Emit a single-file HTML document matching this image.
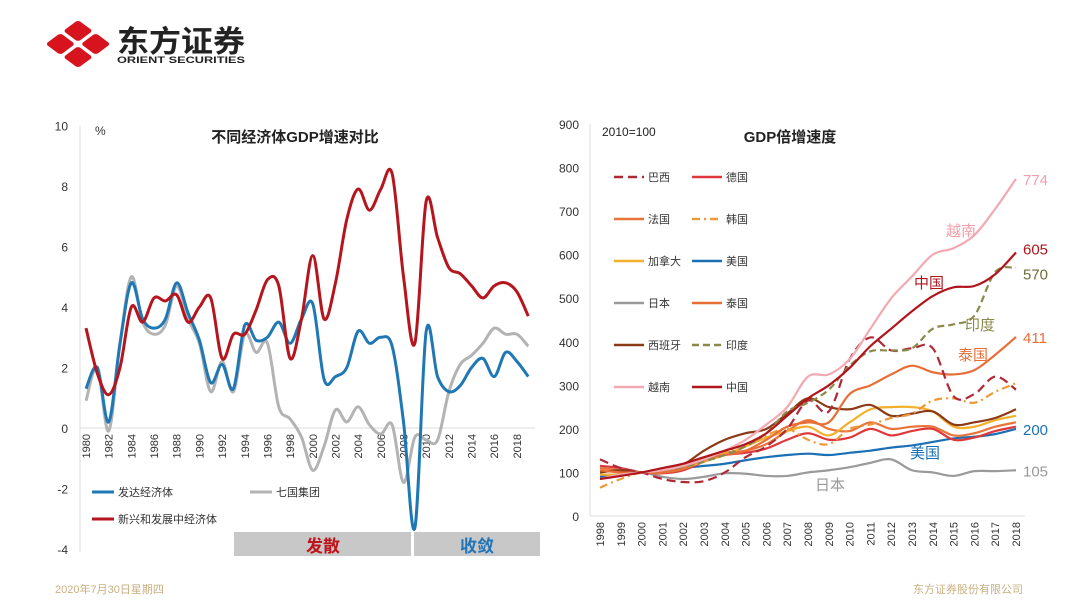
<!DOCTYPE html>
<html><head><meta charset="utf-8">
<style>
body{margin:0;background:#fff;}
svg{display:block;font-family:"Liberation Sans","Noto Sans CJK SC",sans-serif;}
</style></head>
<body>
<svg id="root" width="1080" height="608" viewBox="0 0 1080 608" xmlns="http://www.w3.org/2000/svg">
<g>
 <g transform="translate(78,44) scale(1.35,1) rotate(45)">
  <rect x="-17" y="-17" width="15.5" height="15.5" rx="2.5" fill="#d7141d"/>
  <rect x="1.5" y="-17" width="15.5" height="15.5" rx="2.5" fill="#d7141d"/>
  <rect x="-17" y="1.5" width="15.5" height="15.5" rx="2.5" fill="#d7141d"/>
  <rect x="1.5" y="1.5" width="15.5" height="15.5" rx="2.5" fill="#d7141d"/>
 </g>
 <text x="117" y="52" font-size="30" font-weight="bold" fill="#222" textLength="128" lengthAdjust="spacingAndGlyphs">东方证券</text>
 <text x="117" y="63" font-size="9.5" font-weight="bold" fill="#222" textLength="128" lengthAdjust="spacingAndGlyphs">ORIENT SECURITIES</text>
</g>
<g id="left"></g>
<g id="right"></g>
<text x="55" y="593" font-size="11" fill="#c8b080">2020年7月30日星期四</text>
<text x="913" y="593" font-size="11" fill="#c8b080">东方证券股份有限公司</text>
</svg>
<script>
// ---------- Left chart data ----------
const leftYears = [];
for (let y = 1980; y <= 2019; y++) leftYears.push(y);
const leftTicks = [-4, -2, 0, 2, 4, 6, 8, 10];
const developed = [1.3,2.0,0.2,2.8,4.8,3.6,3.3,3.6,4.8,3.8,2.9,1.5,2.1,1.3,3.4,2.9,3.0,3.5,2.8,3.6,4.1,1.6,1.7,2.0,3.2,2.8,3.0,2.7,0.2,-3.3,3.2,1.7,1.2,1.4,2.0,2.3,1.7,2.5,2.2,1.7];
const g7 = [0.9,2.0,-0.1,2.8,5.0,3.5,3.1,3.4,4.7,3.6,2.8,1.2,2.2,1.2,3.1,2.5,2.8,0.7,0.3,-0.3,-1.4,-0.6,0.6,0.2,0.7,0.1,-0.2,0.1,-1.8,-0.3,-0.4,-0.4,1.2,2.1,2.4,2.8,3.3,3.1,3.1,2.7];
const emerging = [3.3,1.8,1.1,2.0,4.0,3.5,4.3,4.2,4.4,3.5,4.0,4.3,2.3,3.1,3.1,3.9,4.9,4.7,2.3,3.6,5.7,3.6,4.8,6.9,7.9,7.2,7.9,8.4,5.0,2.8,7.5,6.3,5.3,5.1,4.7,4.3,4.7,4.8,4.5,3.7];

// ---------- Right chart data ----------
const rightYears = [];
for (let y = 1998; y <= 2018; y++) rightYears.push(y);
const rightTicks = [0,100,200,300,400,500,600,700,800,900];
const brazil = [130,110,100,85,78,80,100,135,160,200,265,240,360,410,380,385,385,275,280,320,290];
const germany = [115,110,100,98,105,125,140,145,155,175,190,175,180,200,185,195,200,175,180,195,205];
const france = [110,105,100,100,108,130,145,150,165,195,220,200,195,215,200,205,205,185,190,205,215];
const korea = [65,85,100,100,110,125,145,160,185,200,175,165,200,210,225,235,265,270,260,285,305];
const canada = [95,95,100,100,110,125,140,160,180,195,205,185,215,245,250,250,240,205,205,220,230];
const usa = [90,95,100,105,110,115,120,128,135,140,143,140,145,150,157,162,170,178,182,188,200];
const japan = [95,95,100,90,85,90,98,97,92,92,100,105,112,122,130,105,100,92,103,103,105];
const thailand = [105,100,100,100,110,130,140,150,175,205,215,215,280,300,325,345,330,325,335,370,411];
const spain = [100,105,100,105,118,150,175,190,200,235,270,250,245,255,230,235,240,210,215,225,245];
const india = [85,95,100,105,112,125,140,160,190,240,260,290,345,378,380,385,430,440,460,560,570];
const vietnam = [85,95,100,105,115,130,150,175,210,250,320,325,360,430,500,550,600,615,645,705,774];
const china = [85,92,100,110,120,135,150,165,190,230,270,300,340,390,430,470,505,525,528,555,605];

const NS = "http://www.w3.org/2000/svg";
function mk(parent, tag, attrs, text) {
  const e = document.createElementNS(NS, tag);
  for (const k in attrs) e.setAttribute(k, attrs[k]);
  if (text !== undefined) e.textContent = text;
  parent.appendChild(e);
  return e;
}
function smooth(pts) {
  let d = "M" + pts[0][0] + "," + pts[0][1];
  for (let i = 0; i < pts.length - 1; i++) {
    const p0 = pts[Math.max(0, i - 1)], p1 = pts[i], p2 = pts[i + 1], p3 = pts[Math.min(pts.length - 1, i + 2)];
    const t = 6;
    d += " C" + (p1[0] + (p2[0] - p0[0]) / t) + "," + (p1[1] + (p2[1] - p0[1]) / t) + " " +
      (p2[0] - (p3[0] - p1[0]) / t) + "," + (p2[1] - (p3[1] - p1[1]) / t) + " " + p2[0] + "," + p2[1];
  }
  return d;
}

// ---------- Left chart ----------
const L = document.getElementById("left");


const lx = yr => 86 + (yr - 1980) * 11.34;
const ly = v => 428 - v * 30.25;
mk(L, "line", {x1: 80, y1: 126, x2: 80, y2: 552, stroke: "#ddd"});
mk(L, "line", {x1: 80, y1: ly(0), x2: 535, y2: ly(0), stroke: "#ddd"});
leftTicks.forEach(t => {
  const e = mk(L, "text", {x: 68, y: ly(t) + 5, "font-size": 12, fill: "#333", "text-anchor": "end"}, String(t));
  
  
});
leftYears.forEach(yr => {
  if ((yr - 1980) % 2) return;
  const x = lx(yr);
  const e = mk(L, "text", {x: 0, y: 0, "font-size": 11, fill: "#333", "text-anchor": "end", transform: "translate(" + (x + 4) + ",434) rotate(-90)"}, String(yr));
  
  
});
mk(L, "text", {x: 95, y: 135, "font-size": 12, fill: "#333"}, "%");
const lt = mk(L, "text", {x: 295, y: 142, "font-size": 15, "font-weight": "bold", fill: "#222", "text-anchor": "middle"}, "不同经济体GDP增速对比");


const b1 = mk(L, "rect", {x: 234, y: 532, width: 177, height: 24, fill: "#c8c8c8"});


const b2 = mk(L, "rect", {x: 414, y: 532, width: 126, height: 24, fill: "#c8c8c8"});


mk(L, "text", {x: 323, y: 552, "font-size": 17, "font-weight": "bold", fill: "#c0141c", "text-anchor": "middle"}, "发散");
mk(L, "text", {x: 477, y: 552, "font-size": 17, "font-weight": "bold", fill: "#1f75b8", "text-anchor": "middle"}, "收敛");
[[g7, "#b3b3b3", "g7-line"], [developed, "#1f78b4", "developed-line"], [emerging, "#b5161e", "emerging-line"]].forEach(s => {
  const p = mk(L, "path", {d: smooth(s[0].map((v, i) => [lx(leftYears[i]), ly(v)])), fill: "none", stroke: s[1], "stroke-width": 3});
  
  
});
[[92, 492, "#1f78b4", "发达经济体"], [250, 492, "#b3b3b3", "七国集团"], [92, 519, "#b5161e", "新兴和发展中经济体"]].forEach(l => {
  const g = mk(L, "g", {});
  
  
  mk(g, "line", {x1: l[0], y1: l[1], x2: l[0] + 22, y2: l[1], stroke: l[2], "stroke-width": 3});
  mk(g, "text", {x: l[0] + 26, y: l[1] + 4, "font-size": 11, fill: "#333"}, l[3]);
});

// ---------- Right chart ----------
const R = document.getElementById("right");


const rx = yr => 600 + (yr - 1998) * 20.8;
const ry = v => 516 - v * 0.4356;
mk(R, "line", {x1: 590, y1: 124, x2: 590, y2: 516, stroke: "#ddd"});
mk(R, "line", {x1: 590, y1: 516, x2: 1025, y2: 516, stroke: "#ddd"});
rightTicks.forEach(t => {
  const e = mk(R, "text", {x: 579, y: ry(t) + 5, "font-size": 12, fill: "#333", "text-anchor": "end"}, String(t));
  
  
});
rightYears.forEach(yr => {
  const e = mk(R, "text", {x: 0, y: 0, "font-size": 11, fill: "#333", "text-anchor": "end", transform: "translate(" + (rx(yr) + 4) + ",522) rotate(-90)"}, String(yr));
  
  
});
mk(R, "text", {x: 602, y: 136, "font-size": 12, fill: "#222"}, "2010=100");
const rt = mk(R, "text", {x: 790, y: 142, "font-size": 15, "font-weight": "bold", fill: "#222", "text-anchor": "middle"}, "GDP倍增速度");



const series = [
  [japan, "#9a9a9a", "", "日本", "japan-line"],
  [usa, "#1a70b5", "", "美国", "usa-line"],
  [germany, "#e0383a", "", "德国", "germany-line"],
  [france, "#e8743a", "", "法国", "france-line"],
  [canada, "#f3b02c", "", "加拿大", "canada-line"],
  [spain, "#8a3a17", "", "西班牙", "spain-line"],
  [korea, "#ef9a3a", "8,4,2,4", "韩国", "korea-line"],
  [thailand, "#e86e38", "", "泰国", "thailand-line"],
  [brazil, "#b02a35", "9,5", "巴西", "brazil-line"],
  [india, "#8b8a4c", "7,4", "印度", "india-line"],
  [vietnam, "#f2a9b2", "", "越南", "vietnam-line"],
  [china, "#b0151d", "", "中国", "china-line"]
];
series.forEach(s => {
  const p = mk(R, "path", {d: smooth(s[0].map((v, i) => [rx(rightYears[i]), ry(v)])), fill: "none", stroke: s[1], "stroke-width": 2.2, "stroke-dasharray": s[2] || "none"});
  
  
});
const legendOrder = [8, 2, 3, 6, 4, 1, 0, 7, 5, 9, 10, 11];
legendOrder.forEach((si, k) => {
  const s = series[si];
  const col = k % 2, row = Math.floor(k / 2);
  const x = col ? 692 : 614, y = 177 + row * 42;
  const g = mk(R, "g", {});
  
  
  mk(g, "line", {x1: x, y1: y, x2: x + 30, y2: y, stroke: s[1], "stroke-width": 2.5, "stroke-dasharray": s[2] || "none"});
  mk(g, "text", {x: x + 34, y: y + 4, "font-size": 11, fill: "#333"}, s[3]);
});
[[946, 236, "#f0a0ab", "越南"], [914, 288, "#b0151d", "中国"], [965, 330, "#8b8a4c", "印度"], [958, 360, "#e86e38", "泰国"], [910, 458, "#1a70b5", "美国"], [815, 490, "#999", "日本"]].forEach(a => {
  const e = mk(R, "text", {x: a[0], y: a[1], "font-size": 15, fill: a[2]}, a[3]);
  
  
});
[[vietnam, "#f0a0ab"], [china, "#b0151d"], [india, "#6f6e3a"], [thailand, "#e86e38"], [usa, "#1a70b5"], [japan, "#999"]].forEach((e2, i) => {
  const v = e2[0][e2[0].length - 1];
  const yoff = i === 1 ? -4 : (i === 2 ? 6 : 0);
  const e = mk(R, "text", {x: 1023, y: ry(v) + 6 + yoff, "font-size": 15, fill: e2[1]}, String(v));
  
  
});
</script>
</body></html>
